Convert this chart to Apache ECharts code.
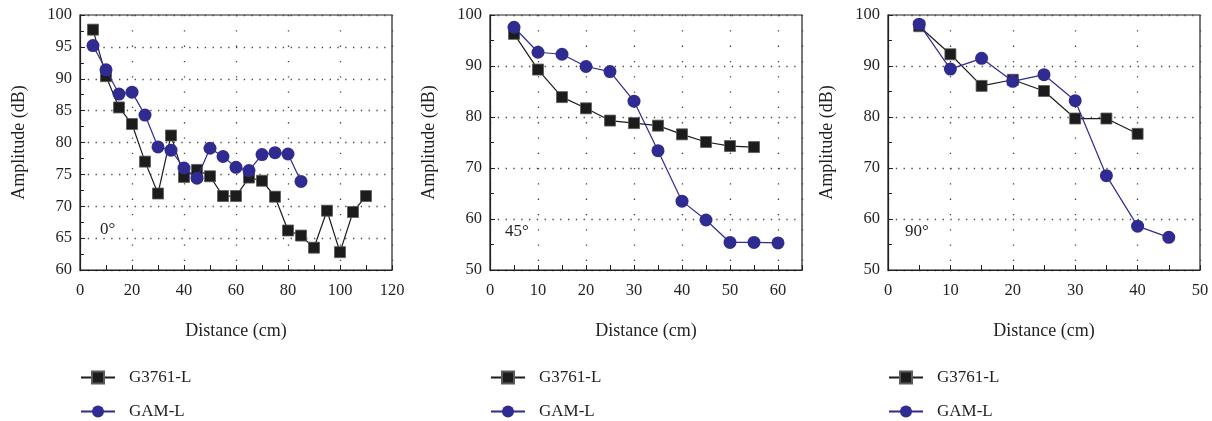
<!DOCTYPE html>
<html>
<head>
<meta charset="utf-8">
<title>Amplitude vs distance</title>
<script src="https://cdn.jsdelivr.net/npm/echarts@6/dist/echarts.min.js"></script>
<style>
  html, body { margin: 0; padding: 0; background: #fff; }
  #chart { width: 1212px; height: 421px; }
</style>
</head>
<body>
<div id="chart"></div>
<script>
// Measured amplitude (dB) against distance (cm) for three incidence angles
const seriesNames = ['G3761-L', 'GAM-L'];
const angleLabels = ['0°', '45°', '90°'];

// 0° panel
const dist0G = [5, 10, 15, 20, 25, 30, 35, 40, 45, 50, 55, 60, 65, 70, 75, 80, 85, 90, 95, 100, 105, 110];
const amp0G = [97.7, 90.4, 85.5, 82.9, 77.0, 72.0, 81.1, 74.6, 75.7, 74.7, 71.6, 71.6, 74.5, 74.0, 71.5, 66.2, 65.4, 63.5, 69.3, 62.8, 69.1, 71.6];
const dist0A = [5, 10, 15, 20, 25, 30, 35, 40, 45, 50, 55, 60, 65, 70, 75, 80, 85];
const amp0A = [95.2, 91.4, 87.6, 87.9, 84.3, 79.3, 78.8, 76.0, 74.4, 79.1, 77.8, 76.1, 75.6, 78.1, 78.4, 78.2, 73.9];

// 45° panel
const dist45G = [5, 10, 15, 20, 25, 30, 35, 40, 45, 50, 55];
const amp45G = [96.3, 89.3, 83.9, 81.7, 79.3, 78.8, 78.3, 76.6, 75.1, 74.3, 74.1];
const dist45A = [5, 10, 15, 20, 25, 30, 35, 40, 45, 50, 55, 60];
const amp45A = [97.6, 92.7, 92.3, 89.9, 88.9, 83.1, 73.4, 63.5, 59.8, 55.4, 55.4, 55.3];

// 90° panel
const dist90G = [5, 10, 15, 20, 25, 30, 35, 40];
const amp90G = [97.8, 92.3, 86.1, 87.3, 85.1, 79.7, 79.7, 76.7];
const dist90A = [5, 10, 15, 20, 25, 30, 35, 40, 45];
const amp90A = [98.2, 89.4, 91.5, 87.0, 88.3, 83.2, 68.5, 58.6, 56.4];

// Axis ranges per panel: [min, max, interval]
const xRanges = [[0, 120, 20], [0, 65, 10], [0, 50, 10]];
const yRanges = [[60, 100, 5], [50, 100, 10], [50, 100, 10]];

const INK = '#231f20';
const BLUE = '#302b91';
const BLACK = '#1c1c1c';
const FONT = '"Liberation Serif", "DejaVu Serif", serif';

const zip = (xs, ys) => xs.map((x, i) => [x, ys[i]]);
const panels = [
  [zip(dist0G, amp0G), zip(dist0A, amp0A)],
  [zip(dist45G, amp45G), zip(dist45A, amp45A)],
  [zip(dist90G, amp90G), zip(dist90A, amp90A)]
];

const gridLefts = [80, 490, 888];
const gridW = 312, gridTop = 15, gridH = 255;

const grid = gridLefts.map(l => ({
  left: l, top: gridTop, width: gridW, height: gridH,
  show: true, borderColor: INK, borderWidth: 1.2, backgroundColor: 'transparent'
}));

const xAxis = xRanges.map((r, i) => ({
  type: 'value', gridIndex: i, min: r[0], max: r[1], interval: r[2],
  name: 'Distance (cm)', nameLocation: 'middle', nameGap: 52,
  nameTextStyle: { fontFamily: FONT, fontSize: 18, color: INK },
  axisLine: { show: true, lineStyle: { color: INK, width: 1.2 } },
  axisTick: { show: true, inside: true, length: 5, lineStyle: { color: INK } },
  minorTick: { show: true, splitNumber: 2, length: 5, lineStyle: { color: INK } },
  axisLabel: { fontFamily: FONT, fontSize: 16.5, color: INK, margin: 12, showMaxLabel: r[1] % r[2] === 0 },
  splitLine: { show: true, lineStyle: { color: '#444', width: 1.3, type: [1.3, 14] } }
}));

const yAxis = yRanges.map((r, i) => ({
  type: 'value', gridIndex: i, min: r[0], max: r[1], interval: r[2],
  name: 'Amplitude (dB)', nameLocation: 'middle', nameGap: 52,
  nameTextStyle: { fontFamily: FONT, fontSize: 18, color: INK },
  axisLine: { show: true, lineStyle: { color: INK, width: 1.2 } },
  axisTick: { show: true, inside: true, length: 5, lineStyle: { color: INK } },
  minorTick: { show: true, splitNumber: 2, length: 4, lineStyle: { color: INK } },
  axisLabel: { fontFamily: FONT, fontSize: 16.5, color: INK, margin: 8 },
  splitLine: { show: true, lineStyle: { color: '#444', width: 1.3, type: [1.3, 6.5] } }
}));

const series = [];
panels.forEach((p, i) => {
  series.push({
    name: seriesNames[0], type: 'line', xAxisIndex: i, yAxisIndex: i,
    data: p[0], symbol: 'rect', symbolSize: 11,
    itemStyle: { color: BLACK, borderColor: '#5a5a5a', borderWidth: 0.8 },
    lineStyle: { color: BLACK, width: 1.2 }, z: 2
  });
  series.push({
    name: seriesNames[1], type: 'line', xAxisIndex: i, yAxisIndex: i,
    data: p[1], symbol: 'circle', symbolSize: 13,
    itemStyle: { color: BLUE },
    lineStyle: { color: BLUE, width: 1.2 }, z: 3
  });
});

// One legend row per series under each panel
const legendRows = [364, 398];
const legend = [];
gridLefts.forEach(l => {
  seriesNames.forEach((n, k) => {
    legend.push({
      left: l - 5, top: legendRows[k],
      data: [n], itemWidth: 34, itemHeight: 15,
      selectedMode: false,
      textStyle: { fontFamily: FONT, fontSize: 17, color: INK, padding: [0, 0, 0, 9] }
    });
  });
});

const angleOffsets = [[20, 230], [15, 232], [17, 232]];
const graphic = angleLabels.map((t, i) => ({
  type: 'text', left: gridLefts[i] + angleOffsets[i][0], top: angleOffsets[i][1] - 9,
  style: { text: t, font: '17px ' + FONT, fill: INK }
}));

const chart = echarts.init(document.getElementById('chart'), null, { renderer: 'canvas' });
chart.setOption({
  animation: false,
  backgroundColor: '#ffffff',
  grid, xAxis, yAxis, series, legend, graphic
});
</script>
</body>
</html>
